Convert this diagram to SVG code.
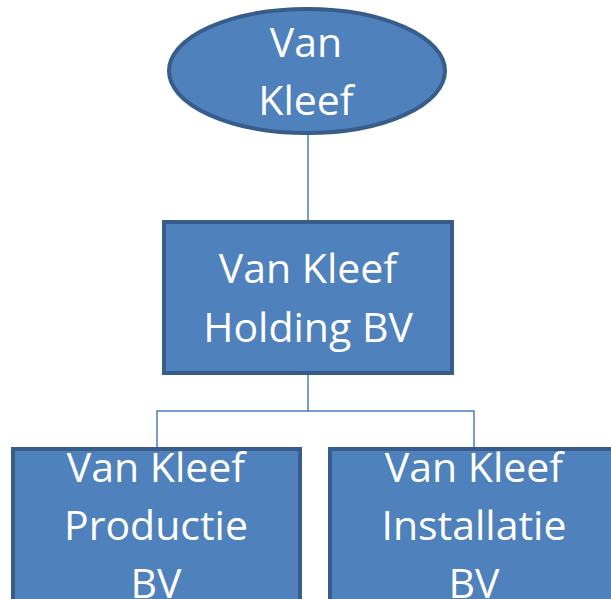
<svg xmlns="http://www.w3.org/2000/svg" width="611" height="599" viewBox="0 0 611 599">
<style>
.n{fill:#4F81BD;stroke:#385D8A;stroke-width:4}
.t{font-family:"Open Sans","Liberation Sans",sans-serif;font-size:41px;fill:#FFFFFF;text-anchor:middle}
.c{fill:none;stroke:#4A7EBB;stroke-width:1.5}
</style>
<rect width="611" height="599" fill="#FFFFFF"/>
<g id="connectors">
<line class="c" x1="308" y1="133" x2="308" y2="222"/>
<polyline class="c" points="308,373 308,411 157,411 157,449"/>
<polyline class="c" points="308,411 474,411 474,449"/>
</g>
<g id="vankleef">
<ellipse class="n" cx="307" cy="71" rx="138" ry="62"/>
<text class="t" x="306" y="57">Van</text>
<text class="t" x="306" y="115">Kleef</text>
</g>
<g id="holding">
<rect class="n" x="164" y="222" width="288" height="151"/>
<text class="t" x="308" y="283">Van Kleef</text>
<text class="t" x="308" y="342">Holding BV</text>
</g>
<g id="productie">
<rect class="n" x="13" y="449" width="287" height="160"/>
<text class="t" x="156" y="482">Van Kleef</text>
<text class="t" x="156" y="540">Productie</text>
<text class="t" x="156" y="598">BV</text>
</g>
<g id="installatie">
<rect class="n" x="330" y="449" width="290" height="160"/>
<text class="t" x="474" y="482">Van Kleef</text>
<text class="t" x="474" y="540">Installatie</text>
<text class="t" x="474" y="598">BV</text>
</g>
</svg>
